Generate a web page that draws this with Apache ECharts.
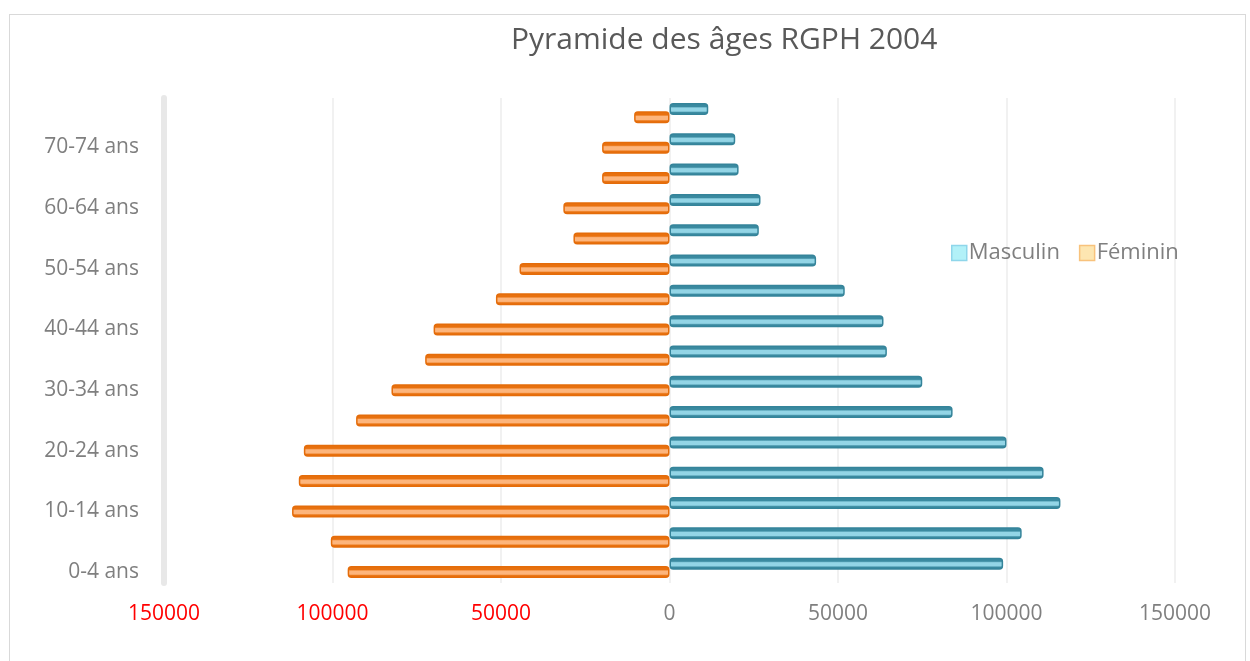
<!DOCTYPE html>
<html>
<head>
<meta charset="utf-8">
<script src="https://cdn.jsdelivr.net/npm/echarts@6/dist/echarts.min.js"></script>
<style>
html,body{margin:0;padding:0;background:#fff;}
#frame{position:absolute;left:9px;top:14px;width:1237px;height:700px;border:1.5px solid #d9d9d9;box-sizing:border-box;}
#chart{position:absolute;left:0;top:0;width:1250px;height:661px;}
</style>
</head>
<body>
<div id="frame"></div>
<div id="chart"></div>
<script>
var categories = ['0-4 ans','5-9 ans','10-14 ans','15-19 ans','20-24 ans','25-29 ans','30-34 ans','35-39 ans','40-44 ans','45-49 ans','50-54 ans','55-59 ans','60-64 ans','65-69 ans','70-74 ans','75 ans et +'];
var masculin = [99000, 104500, 116000, 111000, 100000, 84000, 75000, 64500, 63500, 52000, 43500, 26500, 27000, 20500, 19500, 11500];
var feminin  = [95500, 100500, 112000, 110000, 108500, 93000, 82500, 72500, 70000, 51500, 44500, 28500, 31500, 20000, 20000, 10500];
var xTicks = { min: -150000, max: 150000, interval: 50000 };

function grad(dark, light) {
  return new echarts.graphic.LinearGradient(0, 0, 0, 1, [
    {offset: 0, color: dark}, {offset: 0.3, color: dark},
    {offset: 0.42, color: light}, {offset: 0.68, color: light},
    {offset: 0.8, color: dark}, {offset: 1, color: dark}
  ]);
}

var chart = echarts.init(document.getElementById('chart'), null, {renderer: 'canvas'});
var FONT = 'Open Sans';
chart.setOption({
  backgroundColor: 'transparent',
  animation: false,
  title: {
    text: 'Pyramide des âges RGPH 2004',
    left: 506, top: 20,
    textStyle: {fontFamily: FONT, fontSize: 30, fontWeight: 'normal', color: '#595959'}
  },
  legend: {
    left: 946, top: 237,
    itemWidth: 15, itemHeight: 15, itemGap: 19,
    textStyle: {fontFamily: FONT, fontSize: 22, color: '#7f7f7f', padding: [0,0,0,-3]},
    data: [
      {name: 'Masculin', icon: 'rect', itemStyle: {color: '#b2f1f8', borderColor: '#8fd6ea', borderWidth: 1.5}},
      {name: 'Féminin', icon: 'rect', itemStyle: {color: '#fde6b1', borderColor: '#f8c27c', borderWidth: 1.5}}
    ]
  },
  grid: {left: 164, right: 75, top: 98, bottom: 78, containLabel: false},
  xAxis: {
    type: 'value', min: xTicks.min, max: xTicks.max, interval: xTicks.interval,
    axisLine: {show: false}, axisTick: {show: false},
    splitLine: {show: true, lineStyle: {color: '#ececec', width: 1.5}},
    axisLabel: {
      margin: 21, fontFamily: FONT, fontSize: 21,
      formatter: function (v) { return String(Math.abs(v)); },
      color: function (v) { return Number(v) < 0 ? '#ff0000' : '#7f7f7f'; }
    }
  },
  yAxis: {
    type: 'category', data: categories,
    axisLine: {show: true, onZero: false, lineStyle: {color: '#e8e8e8', width: 6}},
    axisTick: {show: false},
    axisLabel: {interval: 1, margin: 25, fontFamily: FONT, fontSize: 21, color: '#7f7f7f', verticalAlign: 'top', lineHeight: 8}
  },
  series: [
    {
      name: 'Masculin', type: 'bar',
      data: masculin,
      barWidth: 12, barGap: '-30%',
      itemStyle: {color: grad('#3a8aa0', '#93d5e6'), borderColor: '#35849a', borderWidth: 1.5, borderRadius: 3}
    },
    {
      name: 'Féminin', type: 'bar',
      data: feminin.map(function (v) { return -v; }),
      barWidth: 12, barGap: '-30%',
      itemStyle: {color: grad('#e8710f', '#fdb57c'), borderColor: '#e46c0a', borderWidth: 1.5, borderRadius: 3}
    }
  ]
});
</script>
</body>
</html>
